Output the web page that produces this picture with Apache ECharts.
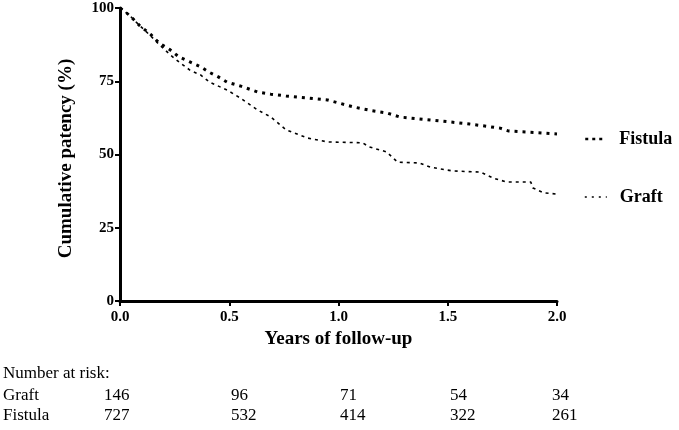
<!DOCTYPE html>
<html><head><meta charset="utf-8">
<script src="https://cdn.jsdelivr.net/npm/echarts@6/dist/echarts.min.js"></script>
<style>html,body{margin:0;padding:0;background:#fff}#c{width:679px;height:430px}</style>
</head><body><div id="c"></div>
<script>
var fistulaT = [0,0.02,0.05,0.09,0.14,0.18,0.23,0.27,0.32,0.37,0.41,0.45,0.49,0.55,0.63,0.69,0.76,0.86,0.95,1.07,1.15,1.22,1.28,1.42,1.5,1.6,1.74,1.78,1.9,2.0];
var fistulaV = [100,99,97,94,91,88,85.7,83.3,81.6,79.9,78,76.5,74.7,73.4,71.3,70.6,70,69.3,68.6,66.2,65,64.2,62.8,61.8,61.2,60.4,59,58,57.5,57];
var graftT = [0,0.02,0.05,0.09,0.14,0.18,0.23,0.27,0.32,0.37,0.41,0.49,0.55,0.63,0.69,0.76,0.86,0.95,1.11,1.14,1.22,1.27,1.37,1.42,1.52,1.65,1.71,1.77,1.88,1.89,1.94,2.0];
var graftV = [100,99,97,94,90.5,87.5,84,81.6,78.8,77.1,74.7,72,69.3,65.2,62.8,58.4,55.6,54.3,54,52.6,50.9,47.4,47.1,45.7,44.4,44,41.9,40.6,40.6,38.6,36.9,36.5];
var riskTitle = 'Number at risk:';
var riskGroups = ['Graft','Fistula'];
var riskGraft = [146,96,71,54,34];
var riskFistula = [727,532,414,322,261];

function pairs(t,v){return t.map(function(x,i){return [x,v[i]];});}
var serif = 'Liberation Serif, Times New Roman, serif';
var riskX = [104,231,340,450,552];
var riskRowsY = [396,416];
var tf = '17px '+serif;
var graphics = [{type:'text',left:3,top:365,style:{text:riskTitle,font:tf,fill:'#000'}}];
[riskGraft,riskFistula].forEach(function(row,r){
  graphics.push({type:'text',left:3,top:riskRowsY[r]-9,style:{text:riskGroups[r],font:tf,fill:'#000'}});
  row.forEach(function(n,i){
    graphics.push({type:'text',left:riskX[i],top:riskRowsY[r]-9,style:{text:String(n),font:tf,fill:'#000'}});
  });
});

var chart = echarts.init(document.getElementById('c'));
chart.setOption({
  animation:false,
  grid:{left:120,right:122,top:8,bottom:129},
  xAxis:{type:'value',min:0,max:2,interval:0.5,
    name:'Years of follow-up',nameLocation:'middle',nameGap:28,
    nameTextStyle:{fontFamily:serif,fontWeight:'bold',fontSize:19,color:'#000'},
    axisLine:{lineStyle:{color:'#000',width:3}},
    axisTick:{length:5,lineStyle:{color:'#000',width:2}},
    axisLabel:{formatter:function(v){return v.toFixed(1);},fontFamily:serif,fontWeight:'bold',fontSize:15,color:'#000',margin:9},
    splitLine:{show:false}},
  yAxis:{type:'value',min:0,max:100,interval:25,
    name:'Cumulative patency (%)',nameLocation:'middle',nameGap:44,
    nameTextStyle:{fontFamily:serif,fontWeight:'bold',fontSize:19,color:'#000',padding:[0,0,0,-8]},
    axisLine:{show:true,lineStyle:{color:'#000',width:3}},
    axisTick:{show:true,length:5,lineStyle:{color:'#000',width:2}},
    axisLabel:{fontFamily:serif,fontWeight:'bold',fontSize:15,color:'#000',margin:6},
    splitLine:{show:false}},
  legend:[
    {left:584,top:130,padding:0,data:['Fistula'],itemWidth:19,itemHeight:10,itemStyle:{opacity:0},
     lineStyle:{width:2.5,type:[3,4]},
     textStyle:{fontFamily:serif,fontWeight:'bold',fontSize:18,color:'#000',padding:[0,0,0,10]}},
    {left:584,top:188,padding:0,data:['Graft'],itemWidth:22,itemHeight:10,itemStyle:{opacity:0},
     lineStyle:{width:1.6,type:[2,5]},
     textStyle:{fontFamily:serif,fontWeight:'bold',fontSize:18,color:'#000',padding:[0,0,0,8]}}
  ],
  series:[
    {name:'Fistula',type:'line',data:pairs(fistulaT,fistulaV),showSymbol:false,symbol:'none',
     lineStyle:{color:'#000',width:3,type:[3,5]},itemStyle:{color:'#000'}},
    {name:'Graft',type:'line',data:pairs(graftT,graftV),showSymbol:false,symbol:'none',
     lineStyle:{color:'#000',width:1.6,type:[3,4]},itemStyle:{color:'#000'}}
  ],
  graphic:graphics
});
</script></body></html>
